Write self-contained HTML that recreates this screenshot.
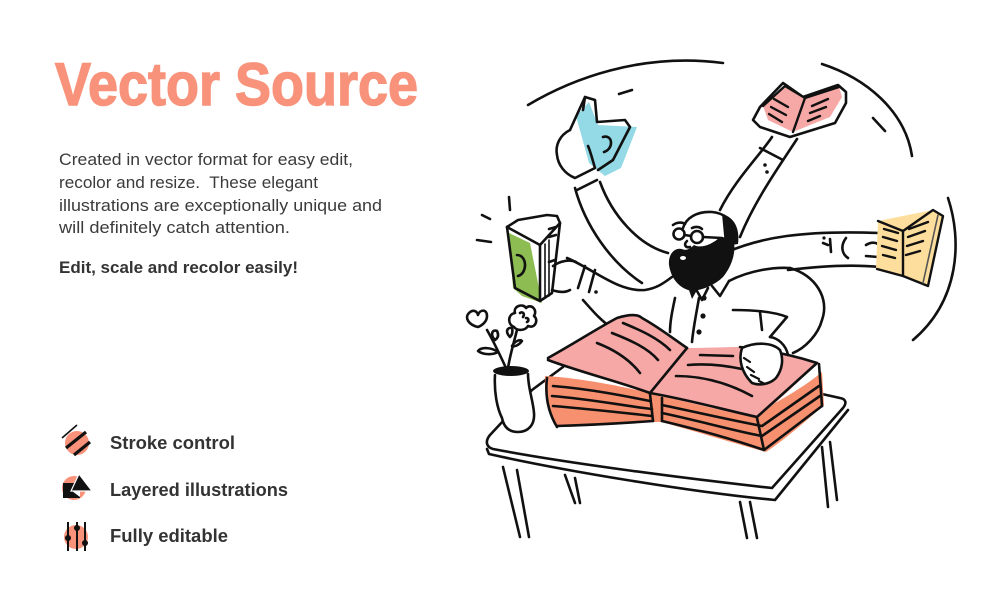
<!DOCTYPE html>
<html><head><meta charset="utf-8">
<style>
html,body{margin:0;padding:0;background:#fff;}
body{width:1005px;height:601px;overflow:hidden;position:relative;}
svg{position:absolute;left:0;top:0;}
.t{font-family:"Liberation Sans",Arial,sans-serif;}
</style></head>
<body>
<svg width="1005" height="601" viewBox="0 0 1005 601" xmlns="http://www.w3.org/2000/svg">
<!-- Text -->
<text class="t" x="55" y="105" font-size="60" font-weight="bold" fill="#F8927A" stroke="#F8927A" stroke-width="1.4" textLength="363" lengthAdjust="spacingAndGlyphs">Vector Source</text>
<g class="t" font-size="16.5" fill="#3b3b3b">
<text x="59" y="165" textLength="294" lengthAdjust="spacingAndGlyphs">Created in vector format for easy edit,</text>
<text x="59" y="188" textLength="259" lengthAdjust="spacingAndGlyphs" style="white-space:pre">recolor and resize.  These elegant</text>
<text x="59" y="211" textLength="323" lengthAdjust="spacingAndGlyphs">illustrations are exceptionally unique and</text>
<text x="59" y="233" textLength="231" lengthAdjust="spacingAndGlyphs">will definitely catch attention.</text>
<text x="59" y="273" font-weight="bold" fill="#333" textLength="239" lengthAdjust="spacingAndGlyphs">Edit, scale and recolor easily!</text>
</g>
<g class="t" font-size="18" font-weight="bold" fill="#333">
<text x="110" y="449" textLength="125" lengthAdjust="spacingAndGlyphs">Stroke control</text>
<text x="110" y="496" textLength="178" lengthAdjust="spacingAndGlyphs">Layered illustrations</text>
<text x="110" y="542" textLength="118" lengthAdjust="spacingAndGlyphs">Fully editable</text>
</g>

<!-- Icons -->
<circle cx="77" cy="443" r="12" fill="#F8927A"/>
<g stroke="#111" stroke-linecap="butt">
<line x1="62" y1="438" x2="77" y2="425" stroke-width="1.6"/>
<line x1="66" y1="448" x2="86" y2="432" stroke-width="3.2"/>
<line x1="74" y1="455" x2="90" y2="442" stroke-width="3.2"/>
</g>
<circle cx="74" cy="488" r="12" fill="#F8927A"/>
<rect x="63" y="483" width="17" height="15" fill="#111"/>
<polygon points="79,474 71,491 92,491" fill="#111" stroke="#fff" stroke-width="1.2"/>
<polygon points="72,491 80,491 80,497" fill="#fff"/>
<circle cx="76" cy="537" r="12" fill="#F8927A"/>
<g stroke="#111" stroke-width="2">
<line x1="68" y1="522" x2="68" y2="551"/>
<line x1="77" y1="522" x2="77" y2="551"/>
<line x1="85" y1="522" x2="85" y2="551"/>
</g>
<circle cx="68" cy="538" r="3" fill="#111"/>
<circle cx="77" cy="528" r="3" fill="#111"/>
<circle cx="85" cy="543" r="3" fill="#111"/>

<!-- Illustration -->
<g fill="none" stroke="#111" stroke-width="2.6" stroke-linecap="round" stroke-linejoin="round">
<path d="M528,105 C570,80 640,52 723,63"/>
<path d="M822,64 C865,78 905,110 912,156"/>
<path d="M948,198 C962,240 960,300 913,340"/>
<path d="M619,94 L632,90"/>
<path d="M873,118 L885,131"/>
<path d="M509,197 L510,210"/>
<path d="M482,215 L490,219"/>
<path d="M477,240 L491,242"/>

<path d="M575,188 C585,225 610,262 642,283"/>
<path d="M600,182 C612,215 638,245 668,253"/>
<path d="M772,137 C760,155 735,180 720,210"/>
<path d="M797,139 C780,165 755,200 740,237"/>
<path d="M760,148 L783,160"/>
<path d="M727,252 C760,238 800,230 880,233"/>
<path d="M788,270 C820,266 850,264 880,267"/>
<path d="M830,239 L831,252 M846,238 C840,246 842,254 848,258 M823,243 L828,245"/>
<path d="M866,245 C874,240 882,244 880,250 M866,256 L878,257"/>
<path d="M567,258 C595,270 618,292 645,290 C658,288 665,282 672,277"/>
<path d="M583,300 C592,310 600,320 612,328"/>
<path d="M585,266 L578,288 M595,270 L589,292"/>
</g>
<g fill="#111">
<circle cx="765" cy="165" r="1.8"/><circle cx="767" cy="172" r="1.8"/>
<circle cx="824" cy="238" r="1.6"/><circle cx="596" cy="292" r="1.8"/>
</g>

<!-- Blue book -->
<polygon points="576,116 589,102 598,125 637,127 621,168 605,176 589,163" fill="#93D9E6"/>
<g fill="none" stroke="#111" stroke-width="2.6" stroke-linecap="round" stroke-linejoin="round">
<path d="M570,130 L585,97 L595,100 L597,122 L625,120 L630,127 L613,160 L598,170"/>
<path d="M585,97 L583,110"/>
<path d="M603,137 C613,134 614,149 604,152"/>
<path d="M570,130 C560,135 555,145 557,155 C558,165 565,174 575,178 L595,168 C592,158 590,150 588,146"/>
<path d="M577,190 L597,180"/>
</g>

<!-- Pink book -->
<polygon points="753,120 760,107 783,83 803,97 838,85 846,92 846,103 835,123 790,137 760,127" fill="#fff" stroke="#111" stroke-width="2.6" stroke-linejoin="round"/>
<polygon points="763,106 785,86 805,98 839,87 842,97 830,117 793,132 768,120" fill="#F6A8A6"/>
<g fill="none" stroke="#111" stroke-width="2.4" stroke-linecap="round" stroke-linejoin="round">
<path d="M763,106 L785,86 L805,98 L839,87"/>
<path d="M805,98 L793,132"/>
<path d="M774,99 L788,107 M771,107 L786,115 M769,114 L782,122"/>
<path d="M812,106 L828,99 M810,113 L826,107 M808,121 L820,116"/>
</g>

<!-- Yellow book -->
<polygon points="878,221 933,210 942,217 927,285 903,275 876,268" fill="#FDDE9C"/>
<g fill="none" stroke="#111" stroke-width="2.4" stroke-linecap="round" stroke-linejoin="round">
<path d="M878,221 L903,231 L933,210 L943,216 L928,286 L903,276 L877,269"/>
<path d="M903,231 L903,276"/>
<path d="M938,215 L923,283" stroke="#555" stroke-width="1.6"/>
<path d="M884,229 L898,233 M883,237 L897,241 M882,246 L896,250 M883,255 L895,258"/>
<path d="M909,229 L928,222 M908,237 L925,231 M907,246 L923,241 M906,255 L920,251"/>
</g>

<!-- Green book -->
<polygon points="509,233 530,243 542,303 522,296 513,288" fill="#8DBD52"/>
<g fill="none" stroke="#111" stroke-width="2.6" stroke-linecap="round" stroke-linejoin="round">
<path d="M507,227 L518,220 L547,215 L557,216 L560,223 L552,293 L540,301 L515,288 Z"/>
<path d="M507,227 L540,245 L560,223"/>
<path d="M540,245 L540,301"/>
<path d="M545,244 L545,298 M549,240 L549,296" stroke-width="1.6"/>
<path d="M549,229 L556,227 M549,237 L556,235 M549,262 L555,260"/>
<path d="M517,255 C527,255 528,273 518,276"/>
<path d="M553,266 C560,261 570,259 576,262 M552,290 C558,292 565,293 570,290"/>
</g>

<!-- Head -->
<g fill="none" stroke="#111" stroke-width="2.6" stroke-linecap="round" stroke-linejoin="round">
<path d="M683,228 C686,218 697,211 712,212 C724,213 732,220 734,230"/>
<path d="M673,225 C677,222 682,222 685,224 M692,228 C696,226 700,227 702,229"/>
<circle cx="679" cy="234" r="5.5"/>
<circle cx="697" cy="237" r="6"/>
<path d="M685,235 L691,236 M703,237 L722,238"/>
<path d="M687,241 C683,245 686,248 690,247"/>
</g>
<path d="M722,214 C734,217 740,228 738,244 L725,246 Z" fill="#111"/>
<path d="M669,265 C668,255 674,247 682,249 C686,251 690,249 694,245 C701,249 713,244 720,237 L733,238 C737,251 732,266 723,277 C715,285 703,290 692,291 C680,289 671,279 669,265 Z" fill="#111"/>
<ellipse cx="683" cy="258" rx="3" ry="2" fill="#fff"/>
<path d="M689,290 L692,299 L697,290 Z" fill="#111"/>

<g fill="none" stroke="#111" stroke-width="2.6" stroke-linecap="round" stroke-linejoin="round">
<path d="M697,291 L702,300 L708,288"/>
<path d="M712,286 L720,296 L729,281"/>
<path d="M729,281 C750,270 775,267 790,268"/>
<path d="M675,298 C672,312 670,322 670,332"/>
<path d="M699,298 C696,315 693,330 692,342"/>
<path d="M790,268 C815,275 830,298 822,320 C818,335 805,348 793,353"/>
<path d="M733,310 C755,310 775,312 787,317 L770,337"/>
<path d="M760,312 L762,330"/>
</g>
<g fill="#111"><circle cx="704" cy="298" r="2.6"/><circle cx="703" cy="316" r="2.6"/><circle cx="699" cy="332" r="2.6"/></g>

<!-- Table legs -->
<g fill="none" stroke="#111" stroke-width="2.6" stroke-linecap="round">
<path d="M503,467 L520,537 M517,470 L529,537"/>
<path d="M565,475 L575,503 M575,478 L580,503"/>
<path d="M740,502 L747,538 M750,502 L757,538"/>
<path d="M822,447 L828,507 M830,442 L837,500"/>
</g>
<path d="M563,367 L532,390 L490,435 C485,441 486,448 489,454 C560,470 690,492 775,500 L848,410 C848,402 846,398 840,397 L822,392 Z" fill="#fff"/>
<g fill="none" stroke="#111" stroke-width="2.6" stroke-linecap="round" stroke-linejoin="round">
<path d="M563,367 L532,390 L490,435 C485,441 486,447 493,449 C560,462 680,478 772,488 L843,408 C847,403 846,399 840,398 L822,394"/>
<path d="M487,449 L489,454 C560,470 690,492 775,500 L848,410"/>
</g>

<!-- Big book -->
<path d="M545,376 C580,378 620,386 650,393 L662,396 C700,402 740,410 762,410 C785,398 805,386 822,372 L824,405 C807,420 787,438 766,452 C730,442 690,430 662,422 L653,422 C620,424 585,427 557,427 C549,416 544,398 545,376 Z" fill="#F7906F"/>
<path d="M548,358 C575,343 598,328 617,318 C630,314 638,314 642,318 C660,328 675,340 687,348 C705,348 725,347 740,347 C770,350 795,356 819,362 C800,380 780,400 757,418 C720,411 685,401 650,394 C620,384 585,372 548,360 Z" fill="#F6A8A6"/>
<g fill="none" stroke="#111" stroke-width="2.6" stroke-linecap="round" stroke-linejoin="round">
<path d="M548,358 C575,343 598,328 617,318 C630,314 638,314 642,318 C660,328 675,340 687,348"/>
<path d="M687,348 L650,393"/>
<path d="M740,347 C770,350 795,356 817,363 L757,417"/>
<path d="M548,360 C580,372 620,382 650,393 C690,400 725,410 757,417"/>
<path d="M623,323 C640,330 658,338 670,350"/>
<path d="M612,333 C630,340 648,348 658,360"/>
<path d="M597,343 C615,350 630,360 640,373"/>
<path d="M700,355 L733,356"/>
<path d="M688,365 C710,363 728,366 742,369"/>
<path d="M676,376 C705,376 730,384 752,396"/>
<path d="M547,378 C545,395 548,412 557,427"/>
<path d="M553,386 C590,389 625,396 650,401"/>
<path d="M552,396 C590,399 625,406 652,409"/>
<path d="M553,406 C590,409 625,413 652,416"/>
<path d="M557,426 C590,425 625,423 653,421"/>
<path d="M650,394 L653,421 M662,398 L662,421"/>
<path d="M662,405 C700,413 735,421 762,426 L819,386"/>
<path d="M662,413 C700,421 735,431 762,436 L820,396"/>
<path d="M662,421 C700,430 735,440 764,450 L822,406"/>
<path d="M819,364 L822,406"/>
<path d="M757,418 L764,450"/>
</g>

<path d="M742,348 C738,360 742,373 752,383 C760,386 770,384 776,378 C782,370 784,360 780,350 C772,342 755,342 742,348 Z" fill="#fff" stroke="#111" stroke-width="2.6" stroke-linejoin="round"/>
<g fill="none" stroke="#111" stroke-width="2.2" stroke-linecap="round">
<path d="M747,367 L754,372 M751,375 L759,379 M759,381 L765,384 M744,358 L750,362"/>
<path d="M770,337 C778,338 786,345 788,355" stroke-width="2.6"/>
</g>

<!-- Vase & flowers -->
<g fill="none" stroke="#111" stroke-width="2.6" stroke-linecap="round" stroke-linejoin="round">
<path d="M506,368 C500,355 494,342 487,330"/>
<path d="M508,368 C510,355 514,342 517,330"/>
<path d="M478,327 C469,325 464,318 469,313 C473,309 477,311 478,315 C480,309 487,309 487,316 C487,321 483,325 478,327 Z"/>
<path d="M514,327 C507,324 508,314 515,313 C513,306 523,303 526,308 C531,303 538,310 534,316 C539,320 535,329 528,326 C525,331 517,331 514,327 Z"/>
<path d="M520,313 C523,311 525,314 523,317 M526,318 C529,318 529,321 527,322"/>
<path d="M498,352 C491,347 481,347 478,351 C483,355 493,355 498,352 Z"/>
<path d="M495,340 C490,335 492,329 497,331 C499,335 498,338 495,340 Z"/>
<path d="M510,337 C505,332 507,327 512,328 C513,332 512,335 510,337 Z"/>
<path d="M512,346 C515,341 520,339 522,341 C519,345 515,347 512,346 Z"/>
<path d="M495,375 C494,392 497,408 502,418 C504,428 510,432 518,432 C528,432 535,425 534,413 C533,400 528,388 528,374" fill="#fff"/>
</g>
<ellipse cx="511" cy="371" rx="18" ry="5" fill="#111"/>
</svg>
</body></html>
